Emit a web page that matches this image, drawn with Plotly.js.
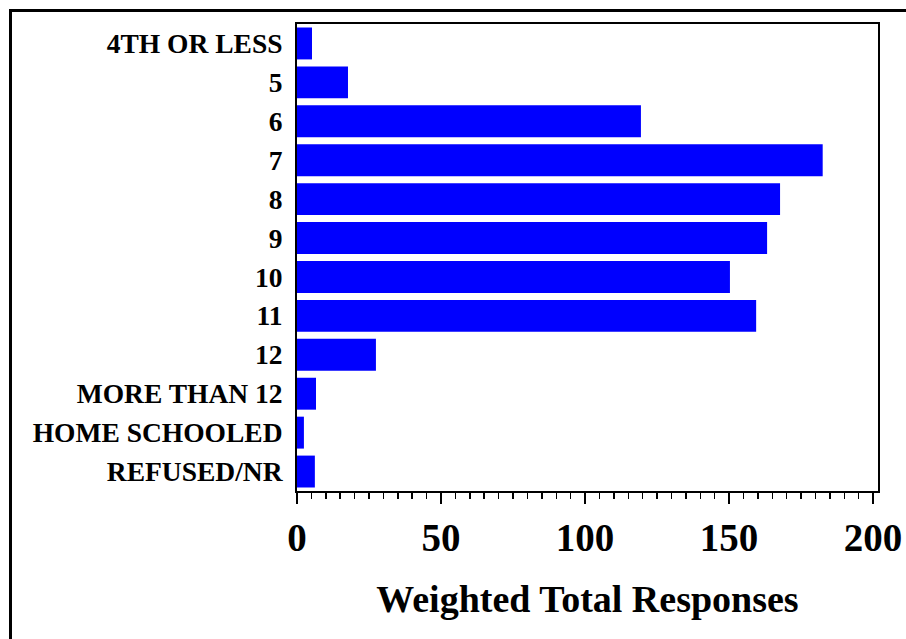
<!DOCTYPE html>
<html>
<head>
<meta charset="utf-8">
<script src="https://cdn.plot.ly/plotly-3.0.1.min.js"></script>
<style>
  html, body { margin: 0; padding: 0; background: #fff; }
  #wrap { position: relative; width: 906px; height: 639px; overflow: hidden; }
  #chart { width: 906px; height: 639px; }
  #frame { position: absolute; left: 9px; top: 9px; width: 2000px; height: 2000px;
           border-left: 3px solid #000; border-top: 3px solid #000; pointer-events: none; }
</style>
</head>
<body>
<div id="wrap">
  <div id="chart"></div>
  <div id="frame"></div>
</div>
<script>
const categories = ["4TH OR LESS", "5", "6", "7", "8", "9", "10", "11", "12",
                    "MORE THAN 12", "HOME SCHOOLED", "REFUSED/NR"];
const values = [5.2, 17.7, 119.4, 182.5, 167.7, 163.2, 150.3, 159.4, 27.4, 6.6, 2.4, 6.2];
const xTickValues = [0, 50, 100, 150, 200];
const xTitle = "Weighted Total Responses";

const serif = "Liberation Serif, Times New Roman, serif";

const trace = {
  type: "bar",
  orientation: "h",
  y: categories,
  x: values,
  marker: { color: "#0000FF", line: { width: 0 } },
  hoverinfo: "x+y"
};

const layout = {
  width: 906,
  height: 639,
  margin: { l: 297, r: 28, t: 24, b: 148 },
  paper_bgcolor: "#ffffff",
  plot_bgcolor: "#ffffff",
  showlegend: false,
  bargap: 0.18,
  xaxis: {
    range: [0, 201.7],
    tickvals: xTickValues,
    ticktext: xTickValues.map(String),
    ticks: "outside",
    ticklen: 11,
    tickwidth: 2,
    tickcolor: "#000",
    minor: { dtick: 5, ticks: "outside", ticklen: 6, tickwidth: 1.5, tickcolor: "#000" },
    showgrid: false,
    zeroline: false,
    showline: true,
    linecolor: "#000",
    linewidth: 2,
    mirror: true,
    tickfont: { family: serif, size: 39, color: "#000", weight: "bold" },
    title: { text: xTitle, font: { family: serif, size: 38, color: "#000", weight: "bold" }, standoff: 28 }
  },
  yaxis: {
    type: "category",
    autorange: "reversed",
    showgrid: false,
    zeroline: false,
    showline: true,
    linecolor: "#000",
    linewidth: 2,
    mirror: true,
    ticks: "",
    ticklabelstandoff: 7,
    tickfont: { family: serif, size: 27.5, color: "#000", weight: "bold" }
  }
};

Plotly.newPlot("chart", [trace], layout, { staticPlot: true, displayModeBar: false });
</script>
</body>
</html>
